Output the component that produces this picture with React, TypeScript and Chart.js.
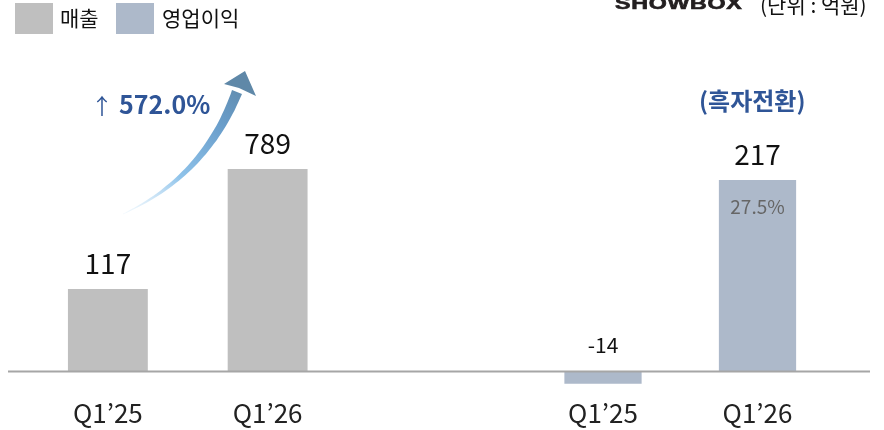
import React, { useEffect, useRef } from 'react';
import { Chart, registerables } from 'chart.js';

Chart.register(...registerables);

// ---- data ----
const periods = ['Q1’25', 'Q1’26'];
const revenue = [117, 789];
const operatingProfit = [-14, 217];
const profitMargins = [null, '27.5%'];
const revenueLabel = '매출';
const profitLabel = '영업이익';
const revenueGrowth = '572.0%';
const profitNote = '(흑자전환)';
const unitLabel = '(단위 : 억원)';
const brand = 'SHOWBOX';

// ---- style ----
const FONT = '"Noto Sans CJK KR", "Noto Sans", sans-serif';
const GRAY = '#bfbfbf';
const BLUE = '#adb9ca';
const ACCENT = '#2f5597';

function overlayPlugin(lineFrom: number, lineTo: number, inner: (string | null)[]) {
  return {
    id: 'overlay',
    afterDatasetsDraw(chart: any) {
      const ctx = chart.ctx;
      const meta = chart.getDatasetMeta(0);
      const values = chart.data.datasets[0].data as number[];
      const base = meta.data[0].base;
      ctx.save();
      ctx.strokeStyle = '#a6a6a6';
      ctx.lineWidth = 2;
      ctx.beginPath();
      ctx.moveTo(lineFrom, base);
      ctx.lineTo(lineTo, base);
      ctx.stroke();
      ctx.textAlign = 'center';
      ctx.textBaseline = 'middle';
      meta.data.forEach((el: any, i: number) => {
        const v = values[i];
        const top = Math.min(el.y, el.base);
        ctx.fillStyle = '#111';
        ctx.font = `${v < 0 ? 21 : 28}px ${FONT}`;
        ctx.fillText(String(v), el.x, top - 26);
        if (inner[i]) {
          ctx.fillStyle = '#666';
          ctx.font = `19px ${FONT}`;
          ctx.fillText(inner[i] as string, el.x, el.y + 27);
        }
      });
      ctx.restore();
    },
  };
}

function makeConfig(label: string, data: number[], color: string, y: any, padding: any, axisHeight: number, tickPad: number, plugin: any) {
  return {
    type: 'bar' as const,
    data: {
      labels: periods,
      datasets: [
        {
          label,
          data,
          backgroundColor: color,
          barPercentage: 0.5,
          categoryPercentage: 1,
        },
      ],
    },
    options: {
      responsive: false,
      animation: false as const,
      layout: { padding },
      plugins: { legend: { display: false }, tooltip: { enabled: false } },
      scales: {
        x: {
          grid: { display: false, drawTicks: false },
          border: { display: false },
          ticks: { color: '#222', padding: tickPad, font: { family: FONT, size: 26 } },
          afterFit: (scale: any) => {
            scale.height = axisHeight;
          },
        },
        y: { display: false, ...y },
      },
    },
    plugins: [plugin],
  };
}

function ArrowSvg() {
  // tapered curved arrow
  const p0 = [123, 214], p1 = [205, 176], p2 = [237, 92];
  const left: string[] = [], right: string[] = [];
  const N = 40;
  for (let i = 0; i <= N; i++) {
    const t = i / N;
    const x = (1 - t) * (1 - t) * p0[0] + 2 * (1 - t) * t * p1[0] + t * t * p2[0];
    const y = (1 - t) * (1 - t) * p0[1] + 2 * (1 - t) * t * p1[1] + t * t * p2[1];
    const dx = 2 * (1 - t) * (p1[0] - p0[0]) + 2 * t * (p2[0] - p1[0]);
    const dy = 2 * (1 - t) * (p1[1] - p0[1]) + 2 * t * (p2[1] - p1[1]);
    const len = Math.hypot(dx, dy);
    const nx = -dy / len, ny = dx / len;
    const w = 0.3 + t * 5;
    left.push(`${(x + nx * w).toFixed(1)},${(y + ny * w).toFixed(1)}`);
    right.unshift(`${(x - nx * w).toFixed(1)},${(y - ny * w).toFixed(1)}`);
  }
  const shaft = `M${left.join(' L')} L${right.join(' L')} Z`;
  return (
    <svg width={884} height={430} style={{ position: 'absolute', left: 0, top: 0, pointerEvents: 'none' }}>
      <defs>
        <linearGradient id="ag" gradientUnits="userSpaceOnUse" x1={123} y1={214} x2={244} y2={72}>
          <stop offset="0" stopColor="#d6ebfa" stopOpacity="0.3" />
          <stop offset="0.35" stopColor="#8fc3ea" />
          <stop offset="0.7" stopColor="#6a9ecb" />
          <stop offset="1" stopColor="#5d86a6" />
        </linearGradient>
      </defs>
      <path d={shaft} fill="url(#ag)" />
      <path d="M245,71 L256,96 L239,88 L224,84 Z" fill="#5f88a8" />
    </svg>
  );
}

export default function App() {
  const leftRef = useRef<HTMLCanvasElement>(null);
  const rightRef = useRef<HTMLCanvasElement>(null);

  useEffect(() => {
    const left = new Chart(
      leftRef.current!,
      makeConfig(
        revenueLabel,
        revenue,
        GRAY,
        { type: 'logarithmic', min: 31.5, max: 8430 },
        { left: 28, right: 92.5, top: 20, bottom: 0 },
        58.5,
        26,
        overlayPlugin(8, 440, [null, null])
      ) as any
    );
    const right = new Chart(
      rightRef.current!,
      makeConfig(
        profitLabel,
        operatingProfit,
        BLUE,
        { type: 'linear', min: -20.96, max: 398.3 },
        { left: 85.75, right: 49.25, top: 20, bottom: 0 },
        40,
        7.5,
        overlayPlugin(0, 430, profitMargins)
      ) as any
    );
    return () => {
      left.destroy();
      right.destroy();
    };
  }, []);

  const legendItem = (color: string, text: string, x: number, textX: number) => (
    <>
      <div style={{ position: 'absolute', left: x, top: 3, width: 38, height: 31, background: color }} />
      <div style={{ position: 'absolute', left: textX, top: 3, fontFamily: FONT, fontSize: 21, lineHeight: '28px', color: '#111' }}>{text}</div>
    </>
  );

  return (
    <div style={{ position: 'fixed', left: 0, top: 0, width: 884, height: 430, background: '#fff', overflow: 'hidden' }}>
      <canvas ref={leftRef} width={440} height={430} style={{ position: 'absolute', left: 0, top: 0 }} />
      <canvas ref={rightRef} width={444} height={430} style={{ position: 'absolute', left: 440, top: 0 }} />
      <ArrowSvg />
      {legendItem(GRAY, revenueLabel, 15, 60)}
      {legendItem(BLUE, profitLabel, 116, 162)}
      <div style={{ position: 'absolute', left: 615, top: -5, fontFamily: '"Liberation Sans", sans-serif', fontWeight: 900, fontSize: 16, color: '#231f20', transform: 'scaleX(1.45)', transformOrigin: 'left top', whiteSpace: 'nowrap', letterSpacing: 0.5, WebkitTextStroke: '0.6px #231f20' }}>{brand}</div>
      <div style={{ position: 'absolute', left: 760, top: -11, fontFamily: FONT, fontSize: 21, color: '#111', whiteSpace: 'nowrap' }}>{unitLabel}</div>
      <div style={{ position: 'absolute', left: 91, top: 86, fontFamily: FONT, color: ACCENT, whiteSpace: 'nowrap', lineHeight: '34px' }}>
        <span style={{ fontSize: 22 }}>↑</span>
        <span style={{ fontSize: 25, fontWeight: 700, marginLeft: 6 }}>{revenueGrowth}</span>
      </div>
      <div style={{ position: 'absolute', left: 699, top: 83, fontFamily: FONT, color: ACCENT, fontSize: 24, fontWeight: 700, whiteSpace: 'nowrap', lineHeight: '34px' }}>{profitNote}</div>
    </div>
  );
}
